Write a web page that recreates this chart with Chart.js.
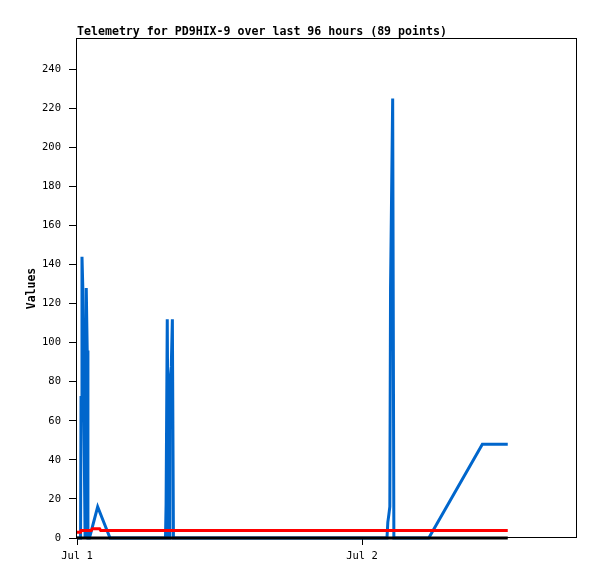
<!DOCTYPE html>
<html>
<head>
<meta charset="utf-8">
<script src="https://cdn.jsdelivr.net/npm/chart.js@4"></script>
<style>
  body { margin: 0; background: #fff; }
  #wrap { width: 597px; height: 579px; }
</style>
</head>
<body>
<div id="wrap"><canvas id="chart" width="597" height="579"></canvas></div>
<script>
// hours since Jul 1 00:00 and values
var blueHours  = [0, 0.30, 0.34, 0.42, 0.49, 0.54, 0.58, 0.63, 0.68, 0.72, 0.78, 0.86, 0.92, 1.05, 1.74, 2.78,
                  7.45, 7.50, 7.60, 7.70, 7.76, 7.82, 7.94, 8.03, 8.12,
                  26.10, 26.17, 26.26, 26.34, 26.40, 26.58, 26.68, 29.62, 34.13, 36.27];
var blueValues = [0, 0, 72, 144, 128, 96, 64, 32, 0, 0, 128, 96, 0, 0, 16, 0,
                  0, 17, 112, 0, 0, 80, 88, 112, 0,
                  0, 8, 12, 16, 128, 225, 0, 0, 48, 48];

var redHours  = [0, 0.30, 0.35, 1.20, 1.30, 1.90, 2.00, 36.27];
var redValues = [3, 3, 3.8, 3.8, 4.8, 4.8, 3.8, 3.8];

var blackHours  = [0, 36.27];
var blackValues = [0, 0];

var xTickHours  = [0, 24];
var xTickLabels = ['Jul 1', 'Jul 2'];
var yTickValues = [0, 20, 40, 60, 80, 100, 120, 140, 160, 180, 200, 220, 240];

var titleText = 'Telemetry for PD9HIX-9 over last 96 hours (89 points)';
var monoFont = '"DejaVu Sans Mono", "Liberation Mono", monospace';

function toPoints(xs, ys) {
  var pts = [];
  for (let i = 0; i < xs.length; i++) {
    pts.push({x: xs[i], y: ys[i]});
  }
  return pts;
}

/* title and frame drawn by hand */
var framePlugin = {
  id: 'frame',
  afterDraw: function(chart) {
    const ctx = chart.ctx;
    const a = chart.chartArea;
    ctx.save();
    ctx.strokeStyle = '#000';
    ctx.lineWidth = 1;
    ctx.strokeRect(Math.round(a.left) - 0.5, Math.round(a.top) - 0.5, Math.round(a.right - a.left), Math.round(a.bottom - a.top));
    ctx.fillStyle = '#000';
    ctx.font = 'bold 11.6px ' + monoFont;
    ctx.textBaseline = 'alphabetic';
    ctx.textAlign = 'left';
    ctx.fillText(titleText, a.left, 35);
    ctx.restore();
  }
};

new Chart(document.getElementById('chart').getContext('2d'), {
  type: 'line',
  data: {
    datasets: [
      {
        data: toPoints(blackHours, blackValues),
        borderColor: '#000000',
        borderWidth: 3,
        pointRadius: 0,
        tension: 0,
        clip: false
      },
      {
        data: toPoints(redHours, redValues),
        borderColor: '#ff0000',
        borderWidth: 3,
        pointRadius: 0,
        tension: 0,
        clip: false
      },
      {
        data: toPoints(blueHours, blueValues),
        borderColor: '#0066cc',
        borderWidth: 3,
        pointRadius: 0,
        tension: 0,
        clip: false
      }
    ]
  },
  options: {
    responsive: false,
    animation: false,
    layout: { padding: { top: 39, right: 20, left: 0, bottom: 0 } },
    plugins: {
      legend: { display: false },
      title: { display: false },
      tooltip: { enabled: false }
    },
    scales: {
      x: {
        type: 'linear',
        min: 0,
        max: 42.1,
        afterFit: function(scale) { scale.height = 41; },
        afterBuildTicks: function(scale) {
          scale.ticks = xTickHours.map(function(h) { return {value: h}; });
        },
        ticks: {
          autoSkip: false,
          maxRotation: 0,
          padding: 5,
          color: '#000',
          font: { family: monoFont, size: 10.5 },
          callback: function(value) {
            let i = xTickHours.indexOf(value);
            return i >= 0 ? xTickLabels[i] : '';
          }
        },
        grid: { drawOnChartArea: false, drawTicks: true, tickLength: 7, color: '#000' },
        border: { display: false }
      },
      y: {
        min: 0,
        max: 255.5,
        afterFit: function(scale) { scale.width = 77; },
        afterBuildTicks: function(scale) {
          scale.ticks = yTickValues.map(function(v) { return {value: v}; });
        },
        ticks: {
          padding: 8,
          color: '#000',
          font: { family: monoFont, size: 10.5 }
        },
        grid: { drawOnChartArea: false, drawTicks: true, tickLength: 8, color: '#000' },
        border: { display: false },
        title: {
          display: true,
          text: 'Values',
          color: '#000',
          font: { family: monoFont, size: 11.5, weight: 'bold' },
          padding: { top: 25, bottom: 0 }
        }
      }
    }
  },
  plugins: [framePlugin]
});
</script>
</body>
</html>
